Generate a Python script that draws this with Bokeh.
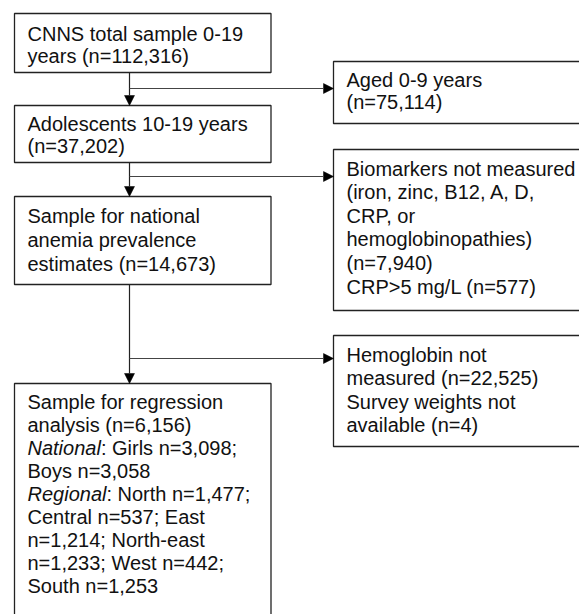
from bokeh.plotting import figure
from bokeh.models import Range1d, Arrow, NormalHead, ColumnDataSource
from bokeh.core.properties import value
from bokeh.embed import file_html
from bokeh.resources import INLINE

# ---- content ----
main_boxes = [
    ["CNNS total sample 0-19", "years (n=112,316)"],
    ["Adolescents 10-19 years", "(n=37,202)"],
    ["Sample for national", "anemia prevalence", "estimates (n=14,673)"],
    ["Sample for regression", "analysis (n=6,156)", "", "Boys n=3,058", "",
     "Central n=537; East", "n=1,214; North-east", "n=1,233; West n=442;", "South n=1,253"],
]
italic_labels = ["National", "Regional"]
italic_rest = [": Girls n=3,098;", ": North n=1,477;"]
italic_rows = [2, 4]

side_boxes = [
    ["Aged 0-9 years", "(n=75,114)"],
    ["Biomarkers not measured", "(iron, zinc, B12, A, D,", "CRP, or", "hemoglobinopathies)",
     "(n=7,940)", "CRP>5 mg/L (n=577)"],
    ["Hemoglobin not", "measured (n=22,525)", "Survey weights not", "available (n=4)"],
]

# ---- layout (pixel coordinates of the picture) ----
main_left, main_right = 14, 270.5
main_top = [13, 105, 196, 383]
main_bottom = [72, 162, 284, 640]
main_first = [40, 130, 222, 408]
main_step = [22.5, 22, 24, 23]

side_left, side_right = 333, 600
side_top = [61, 149, 335]
side_bottom = [123, 310, 446]
side_first = [86, 175, 361.5]
side_step = [22, 23.6, 23.3]
branch_y = [88, 176, 358]
spine_x = 129
pad = 13
italic_w = [73.4, 78.9]
mid_shift = 7  # baseline -> middle of em box

FONT = "Liberation Sans"
FS = "20px"
LINE = "#222222"

p = figure(width=579, height=614, output_backend="svg", toolbar_location=None,
           x_range=Range1d(0, 579), y_range=Range1d(614, 0), min_border=0)
p.axis.visible = False
p.grid.visible = False
p.outline_line_color = None
p.background_fill_color = "white"

# boxes
p.quad(left=[main_left] * 4, right=[main_right] * 4, top=main_top, bottom=main_bottom,
       fill_color="white", line_color=LINE, line_width=1.3)
p.quad(left=[side_left] * 3, right=[side_right] * 3, top=side_top, bottom=side_bottom,
       fill_color="white", line_color=LINE, line_width=1.3)

# texts
xs, ys, ts = [], [], []
for i, lines in enumerate(main_boxes):
    for j, t in enumerate(lines):
        if t:
            xs.append(main_left + pad); ys.append(main_first[i] + j * main_step[i] - mid_shift); ts.append(t)
for i, lines in enumerate(side_boxes):
    for j, t in enumerate(lines):
        xs.append(side_left + pad); ys.append(side_first[i] + j * side_step[i] - mid_shift); ts.append(t)
for k, r in enumerate(italic_rows):
    xs.append(main_left + pad + italic_w[k]); ys.append(main_first[3] + r * main_step[3] - mid_shift); ts.append(italic_rest[k])

src = ColumnDataSource(dict(x=xs, y=ys, t=ts))
p.text(x="x", y="y", text="t", source=src, text_font=value(FONT), text_font_size=FS,
       text_color="#111111", text_baseline="middle", text_align="left")

isrc = ColumnDataSource(dict(x=[main_left + pad] * 2,
                             y=[main_first[3] + r * main_step[3] - mid_shift for r in italic_rows],
                             t=italic_labels))
p.text(x="x", y="y", text="t", source=isrc, text_font=value(FONT), text_font_size=FS,
       text_font_style="italic", text_color="#111111", text_baseline="middle", text_align="left")

# connectors
for i in range(3):
    p.add_layout(Arrow(end=NormalHead(size=10, fill_color="black", line_color="black", line_width=0.5),
                       x_start=spine_x, y_start=main_bottom[i], x_end=spine_x, y_end=main_top[i + 1],
                       line_color=LINE, line_width=1.2))
    p.add_layout(Arrow(end=NormalHead(size=10, fill_color="black", line_color="black", line_width=0.5),
                       x_start=spine_x, y_start=branch_y[i], x_end=side_left, y_end=branch_y[i],
                       line_color="#444444", line_width=1.2))

open("out.html", "w").write(file_html(p, INLINE))
